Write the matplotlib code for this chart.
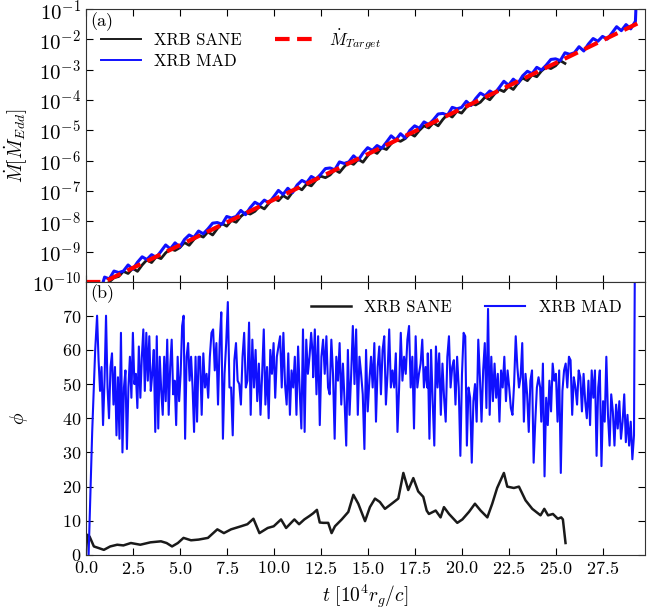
import numpy as np
import matplotlib
matplotlib.use('Agg')
import matplotlib.pyplot as plt
from matplotlib.ticker import LogLocator, NullLocator, MultipleLocator

plt.rcParams.update({
    'font.family': 'serif',
    'font.serif': ['cmr10'],
    'mathtext.fontset': 'cm',
    'axes.unicode_minus': False,
    'axes.formatter.use_mathtext': True,
    'font.size': 13,
})

# ---- panel (a): accretion rate, log10(Mdot / Mdot_Edd) ----
target_t = [0.0, 0.96, 29.5]
target_logmdot = [-10.0, -10.0, -1.43]

# MAD: t = 0.9, then 1.0 .. 29.25 every 0.25, then final spike at 29.3
mad_logmdot = [
    -10.05,
    -9.84, -9.90, -9.64, -9.69,
    -9.64, -9.44, -9.58, -9.35,
    -9.17, -9.26, -9.10, -9.19,
    -8.99, -8.78, -8.91, -8.71,
    -8.85, -8.60, -8.45, -8.53,
    -8.32, -8.41, -8.25, -8.06,
    -8.04, -8.10, -7.84, -7.89,
    -7.84, -7.64, -7.78, -7.55,
    -7.37, -7.46, -7.30, -7.39,
    -7.19, -6.98, -7.11, -6.91,
    -7.05, -6.80, -6.65, -6.73,
    -6.52, -6.61, -6.45, -6.26,
    -6.24, -6.30, -6.04, -6.09,
    -6.04, -5.84, -5.98, -5.75,
    -5.57, -5.66, -5.50, -5.59,
    -5.39, -5.18, -5.31, -5.11,
    -5.25, -5.00, -4.85, -4.93,
    -4.72, -4.81, -4.65, -4.46,
    -4.44, -4.50, -4.24, -4.29,
    -4.24, -4.04, -4.18, -3.95,
    -3.77, -3.86, -3.70, -3.79,
    -3.59, -3.38, -3.51, -3.31,
    -3.45, -3.20, -3.05, -3.13,
    -2.92, -3.01, -2.85, -2.66,
    -2.64, -2.70, -2.44, -2.49,
    -2.44, -2.24, -2.38, -2.15,
    -1.97, -2.06, -1.90, -1.99,
    -1.79, -1.58, -1.71, -1.51,
    -1.65, -1.40,
    -0.60,
]

# SANE: t = 1.25 .. 25.5 every 0.25
sane_logmdot = [
    -10.00, -9.86, -9.82,
    -9.65, -9.72, -9.55, -9.65,
    -9.44, -9.27, -9.36, -9.17,
    -9.23, -9.04, -8.91, -8.96,
    -8.87, -8.70, -8.79, -8.60,
    -8.45, -8.52, -8.35, -8.45,
    -8.24, -8.07, -8.16, -7.97,
    -8.03, -7.84, -7.71, -7.76,
    -7.67, -7.50, -7.59, -7.40,
    -7.25, -7.32, -7.15, -7.25,
    -7.04, -6.87, -6.96, -6.77,
    -6.83, -6.64, -6.51, -6.56,
    -6.47, -6.30, -6.39, -6.20,
    -6.05, -6.12, -5.95, -6.05,
    -5.84, -5.67, -5.76, -5.57,
    -5.63, -5.44, -5.31, -5.36,
    -5.27, -5.10, -5.19, -5.00,
    -4.85, -4.92, -4.75, -4.85,
    -4.64, -4.47, -4.56, -4.37,
    -4.43, -4.24, -4.11, -4.16,
    -4.07, -3.90, -3.99, -3.80,
    -3.65, -3.72, -3.55, -3.65,
    -3.44, -3.27, -3.36, -3.17,
    -3.23, -3.04, -2.91, -2.96,
    -2.87, -2.70, -2.79,
]

# ---- panel (b): magnetic flux phi ----
sane_phi_t = [0.0, 0.08, 0.2, 0.43, 0.7, 0.96, 1.3, 1.67, 2.0, 2.4, 2.9, 3.44, 4.0, 4.3,
              4.59, 4.9, 5.2, 5.6, 6.0, 6.5, 7.0, 7.35, 7.73, 8.26, 8.6, 8.92, 9.24, 9.68,
              10.0, 10.39, 10.66, 11.1, 11.35, 11.63, 11.9, 12.1, 12.3, 12.45, 12.64, 12.9,
              13.08, 13.26, 13.62, 13.97, 14.24, 14.5, 14.86, 15.12, 15.39, 15.65, 15.92,
              16.28, 16.63, 16.9, 17.16, 17.43, 17.69, 17.96, 18.14, 18.26, 18.62, 18.88,
              19.06, 19.33, 19.77, 20.04, 20.39, 20.71, 21.01, 21.37, 21.63, 21.89, 22.25,
              22.43, 22.78, 23.05, 23.4, 23.76, 24.2, 24.4, 24.6, 24.86, 25.12, 25.3, 25.39,
              25.53]
sane_phi = [0.0, 5.9, 5.4, 2.5, 2.0, 1.5, 2.5, 3.0, 2.8, 3.5, 3.0, 3.7, 4.0, 3.5,
            2.5, 3.5, 5.0, 4.3, 4.5, 5.0, 7.5, 6.4, 7.5, 8.4, 9.0, 10.6, 6.4, 7.9,
            8.4, 10.4, 7.9, 10.4, 9.0, 10.4, 11.4, 12.2, 13.2, 9.5, 9.4, 9.4,
            6.4, 8.4, 10.4, 12.6, 17.6, 15.0, 9.9, 14.0, 16.5, 15.5, 13.5,
            15.0, 16.5, 24.0, 19.0, 22.5, 18.6, 17.0, 13.0, 12.0, 13.0, 11.0,
            14.0, 12.0, 9.4, 10.4, 12.6, 15.0, 13.0, 11.0, 15.0, 19.6, 24.0,
            20.0, 19.6, 20.0, 16.0, 13.5, 11.6, 13.5, 11.6, 12.0, 10.6, 11.0, 10.4,
            3.5]

mad_rise_t = [0.15, 0.34, 0.5]
mad_rise_phi = [0, 36, 60]
# t = 0.6 .. 6.0
mad_phi_a = [70, 57, 48, 55, 38, 51, 70, 49, 40, 55, 59, 44, 55, 35, 52, 34, 65, 30, 49, 54,
             31, 49, 58, 46, 65, 50, 53, 43, 61, 46, 58, 66, 48, 65, 51, 64, 48, 53, 60, 36,
             64, 37, 58, 48, 41, 58, 45, 63, 41, 55, 63, 47, 51, 38, 58, 45, 53, 67, 70, 34,
             58, 62, 51, 58, 49, 36, 58, 39, 58]
# t = 6.08 .. 12.08
mad_phi_b = [58, 41, 59, 49, 53, 46, 58, 65, 66, 54, 62, 44, 62, 71, 34, 53, 62, 74, 49, 49,
             35, 57, 62, 51, 50, 44, 58, 65, 49, 51, 68, 41, 63, 49, 60, 45, 56, 41, 53, 66,
             44, 55, 40, 60, 53, 62, 46, 58, 61, 64, 49, 65, 50, 44, 59, 41, 54, 49, 58, 41,
             61, 48, 37, 66, 36, 63, 53, 58, 65, 58]
# t = 12.1 .. 18.17
mad_phi_c = [52, 66, 47, 64, 38, 58, 63, 53, 64, 49, 47, 63, 53, 34, 58, 51, 62, 44, 56, 45,
             32, 60, 41, 53, 67, 50, 66, 41, 58, 53, 47, 31, 60, 42, 51, 58, 49, 62, 39, 55,
             61, 47, 60, 64, 44, 53, 66, 49, 54, 49, 59, 36, 49, 65, 51, 58, 53, 63, 67, 49,
             58, 37, 64, 49, 53, 56, 63, 49, 55, 49]
# t = 18.2 .. 24.18
mad_phi_d = [59, 34, 60, 45, 32, 61, 49, 59, 41, 56, 46, 39, 58, 64, 49, 55, 57, 44, 58, 49,
             29, 53, 65, 64, 32, 49, 46, 27, 45, 50, 39, 63, 52, 39, 54, 62, 43, 72, 41, 58,
             45, 56, 46, 53, 39, 54, 49, 58, 45, 54, 49, 43, 41, 50, 64, 55, 49, 52, 62, 39,
             53, 47, 36, 51, 54, 27, 39, 49, 52, 49]
# t = 24.24 .. 29.26 (last point: spike off the top)
mad_phi_e = [39, 56, 23, 46, 38, 51, 42, 56, 51, 53, 39, 54, 24, 48, 54, 56, 49, 58, 57, 41,
             52, 49, 44, 54, 52, 42, 53, 45, 40, 51, 38, 54, 46, 54, 29, 49, 54, 26, 45, 39,
             58, 41, 32, 47, 42, 32, 44, 37, 45, 34, 39, 47, 33, 41, 32, 39, 28, 35, 130]

mad_segments = [(0.6, 6.0, mad_phi_a), (6.08, 12.08, mad_phi_b), (12.1, 18.17, mad_phi_c),
                (18.2, 24.18, mad_phi_d), (24.24, 29.26, mad_phi_e)]

t_mad_phi = np.concatenate([mad_rise_t] + [np.linspace(a, b, len(v)) for a, b, v in mad_segments])
mad_phi = np.concatenate([mad_rise_phi] + [v for a, b, v in mad_segments])

t_mad_mdot = np.concatenate([[0.9], 1.0 + 0.25 * np.arange(len(mad_logmdot) - 2), [29.3]])
t_sane_mdot = 1.25 + 0.25 * np.arange(len(sane_logmdot))

fig = plt.figure(figsize=(6.6, 6.09), dpi=100)
ax1 = fig.add_axes([0.130, 0.537, 0.847, 0.448])
ax2 = fig.add_axes([0.130, 0.0887, 0.847, 0.449], sharex=ax1)

ax1.plot(t_sane_mdot, 10 ** np.array(sane_logmdot), color='#1a1a1a', lw=2.0, label='XRB SANE')
ax1.plot(t_mad_mdot, 10 ** np.array(mad_logmdot), color='#1010ff', lw=2.2, label='XRB MAD')
ax1.plot(target_t, 10 ** np.array(target_logmdot), color='red', lw=3, ls=(0, (3.5, 1.8)),
         label=r'$\dot{M}_{Target}$')
ax1.set_yscale('log')
ax1.set_ylim(1e-10, 1e-1)
ax1.yaxis.set_major_locator(LogLocator(base=10, numticks=15))
ax1.yaxis.set_minor_locator(NullLocator())
ax1.set_ylabel(r'$\dot{M}[\dot{M}_{Edd}]$', fontsize=14)
ax1.yaxis.set_label_coords(-0.10, 0.5)
ax1.text(0.008, 0.99, '(a)', transform=ax1.transAxes, ha='left', va='top', fontsize=13)
leg1 = ax1.legend(loc='upper left', bbox_to_anchor=(0.0, 0.99), ncol=2, frameon=False,
                  fontsize=12, handlelength=2.4, columnspacing=2.0, labelspacing=0.35)
for h in leg1.get_lines()[:2]:
    h.set_linewidth(1.4)

ax2.plot(sane_phi_t, sane_phi, color='#1a1a1a', lw=1.8, label='XRB SANE')
ax2.plot(t_mad_phi, mad_phi, color='#1010ff', lw=1.5, label='XRB MAD')
ax2.set_ylim(0, 80)
ax2.set_yticks(np.arange(0, 71, 10))
ax2.set_xlim(0, 29.75)
ax2.xaxis.set_major_locator(MultipleLocator(2.5))
ax2.set_ylabel(r'$\phi$', fontsize=14)
ax2.yaxis.set_label_coords(-0.10, 0.5)
ax2.set_xlabel(r'$t\ [10^4 r_g/c]$', fontsize=14)
ax2.text(0.008, 0.99, '(b)', transform=ax2.transAxes, ha='left', va='top', fontsize=13)
ax2.legend(loc='upper right', bbox_to_anchor=(0.985, 0.99), ncol=2, frameon=False, fontsize=12,
           handlelength=2.4, columnspacing=2.0)

for ax in (ax1, ax2):
    ax.tick_params(direction='in', top=True, right=True, length=5, labelsize=13)
    ax.tick_params(which='minor', length=0)
    for s in ax.spines.values():
        s.set_color('#333333')
ax1.tick_params(labelbottom=False, labelsize=15)

fig.savefig('out.png', dpi=100)
